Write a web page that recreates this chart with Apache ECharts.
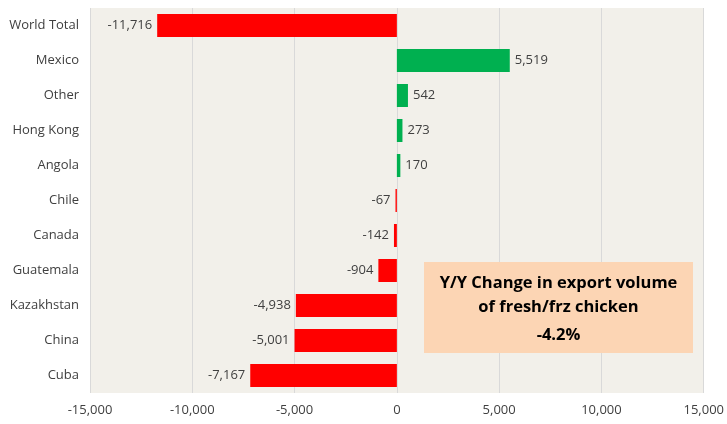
<!DOCTYPE html>
<html><head><meta charset="utf-8">
<script src="https://cdn.jsdelivr.net/npm/echarts@6/dist/echarts.min.js"></script>
<style>html,body{margin:0;padding:0;background:#fff}#c{width:727px;height:424px}</style>
</head><body><div id="c"></div>
<script>
var categories = ["World Total","Mexico","Other","Hong Kong","Angola","Chile","Canada","Guatemala","Kazakhstan","China","Cuba"];
var values = [-11716,5519,542,273,170,-67,-142,-904,-4938,-5001,-7167];
var xTicks = [-15000,-10000,-5000,0,5000,10000,15000];
var noteLines = ["Y/Y Change in export volume","of fresh/frz chicken","-4.2%"];

function fmt(v){ return (v<0?'-':'') + Math.abs(v).toString().replace(/\B(?=(\d{3})+(?!\d))/g, ','); }
var FONT = '"Open Sans", "Liberation Sans", sans-serif';

var chart = echarts.init(document.getElementById('c'), null, {renderer:'canvas'});
chart.setOption({
  animation:false,
  backgroundColor:'#ffffff',
  grid:{left:90,right:19,top:8,bottom:31,show:true,backgroundColor:'#F2F0EA',borderWidth:0},
  xAxis:{type:'value',min:xTicks[0],max:xTicks[xTicks.length-1],interval:5000,
    axisLine:{show:false},axisTick:{show:false},
    splitLine:{show:true,lineStyle:{color:'#D9D9D9',width:1}},
    axisLabel:{formatter:function(v){return fmt(v);},color:'#404040',fontSize:13,fontFamily:FONT,margin:11}},
  yAxis:{type:'category',data:categories,inverse:true,
    axisLine:{show:false},axisTick:{show:false},
    axisLabel:{color:'#404040',fontSize:13,fontFamily:FONT,margin:11}},
  series:[{type:'bar',barWidth:23,
    data:values.map(function(v){return {value:v,
      itemStyle:{color:v<0?'#FF0000':'#00B050'},
      label:{show:true,position:v<0?'left':'right',distance:5,formatter:fmt(v),color:'#404040',fontSize:13,fontFamily:FONT}};})}],
  graphic:[{type:'group',left:424,top:262,z:100,children:[
    {type:'rect',z:100,shape:{x:0,y:0,width:269,height:91},style:{fill:'#FCD5B4'}},
    {type:'text',z:101,x:134.5,y:21,style:{text:noteLines[0],fill:'#000',font:'bold 16.5px '+FONT,textAlign:'center',textVerticalAlign:'middle'}},
    {type:'text',z:101,x:134.5,y:45,style:{text:noteLines[1],fill:'#000',font:'bold 16.5px '+FONT,textAlign:'center',textVerticalAlign:'middle'}},
    {type:'text',z:101,x:134.5,y:73,style:{text:noteLines[2],fill:'#000',font:'bold 16.5px '+FONT,textAlign:'center',textVerticalAlign:'middle'}}
  ]}]
});
</script></body></html>
